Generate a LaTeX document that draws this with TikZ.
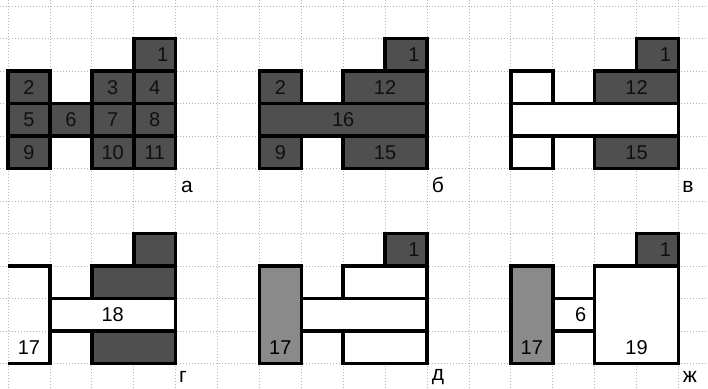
\documentclass[tikz,border=0pt]{standalone}
\usepackage{fontspec}
\setmainfont{Liberation Sans}
\definecolor{darkcell}{HTML}{4F4F4F}
\definecolor{midcell}{HTML}{8A8A8A}
\definecolor{gridc}{HTML}{B4B4B4}
\tikzset{
 gridline/.style={gridc, line width=0.7pt, dash pattern=on 1.2pt off 1.8pt},
 reg/.style={anchor=north west, inner sep=0pt, outer sep=0pt, line width=3.6pt, draw=black},
 dk/.style={reg, fill=darkcell},
 md/.style={reg, fill=midcell},
 wt/.style={reg, fill=white},
 nb/.style={anchor=north west, inner sep=0pt, outer sep=0pt},
 num/.style={font=\fontsize{20}{22}\selectfont, inner sep=0pt},
 dnum/.style={num, text=black!80!darkcell},
 panel/.style={font=\fontsize{21}{24}\selectfont, inner sep=0pt}
}
\newcommand\rg[8]{\node[#8, minimum width={#6*41.9pt}, minimum height={#7*32.5pt}] (#1) at ({#2+#4*41.9},{#3+#5*32.5}) {};}
\begin{document}
\begin{tikzpicture}[x=1pt,y=-1pt]
\useasboundingbox[fill=white] (0,0) rectangle (708,388);
% grid
\foreach \i in {0,...,16} \draw[gridline] ({8+\i*41.9},0) -- ({8+\i*41.9},388);
\foreach \j in {0,...,11} \draw[gridline] (0,{6+\j*32.5}) -- (708,{6+\j*32.5});
% panel a
\rg{a1}{8}{38.5}{3}{0}{1}{1}{dk}
\rg{a2}{8}{38.5}{0}{1}{1}{1}{dk}
\rg{a3}{8}{38.5}{2}{1}{1}{1}{dk}
\rg{a4}{8}{38.5}{3}{1}{1}{1}{dk}
\rg{a5}{8}{38.5}{0}{2}{1}{1}{dk}
\rg{a6}{8}{38.5}{1}{2}{1}{1}{dk}
\rg{a7}{8}{38.5}{2}{2}{1}{1}{dk}
\rg{a8}{8}{38.5}{3}{2}{1}{1}{dk}
\rg{a9}{8}{38.5}{0}{3}{1}{1}{dk}
\rg{a10}{8}{38.5}{2}{3}{1}{1}{dk}
\rg{a11}{8}{38.5}{3}{3}{1}{1}{dk}
\node[dnum] (la1) at ([xshift=8pt]a1.center) {1};
\node[dnum] (la2) at (a2.center) {2};
\node[dnum] (la3) at (a3.center) {3};
\node[dnum] (la4) at (a4.center) {4};
\node[dnum] (la5) at (a5.center) {5};
\node[dnum] (la6) at (a6.center) {6};
\node[dnum] (la7) at (a7.center) {7};
\node[dnum] (la8) at (a8.center) {8};
\node[dnum] (la9) at (a9.center) {9};
\node[dnum] (la10) at (a10.center) {10};
\node[dnum] (la11) at (a11.center) {11};
% panel b
\rg{b1}{259.4}{38.5}{3}{0}{1}{1}{dk}
\rg{b2}{259.4}{38.5}{0}{1}{1}{1}{dk}
\rg{b12}{259.4}{38.5}{2}{1}{2}{1}{dk}
\rg{b16}{259.4}{38.5}{0}{2}{4}{1}{dk}
\rg{b9}{259.4}{38.5}{0}{3}{1}{1}{dk}
\rg{b15}{259.4}{38.5}{2}{3}{2}{1}{dk}
\node[dnum] (lb1) at ([xshift=8pt]b1.center) {1};
\node[dnum] (lb2) at (b2.center) {2};
\node[dnum] (lb12) at (b12.center) {12};
\node[dnum] (lb16) at (b16.center) {16};
\node[dnum] (lb9) at (b9.center) {9};
\node[dnum] (lb15) at (b15.center) {15};
% panel v
\rg{c1}{510.8}{38.5}{3}{0}{1}{1}{dk}
\rg{cw1}{510.8}{38.5}{0}{1}{1}{1}{wt}
\rg{c12}{510.8}{38.5}{2}{1}{2}{1}{dk}
\rg{cw2}{510.8}{38.5}{0}{2}{4}{1}{wt}
\rg{cw3}{510.8}{38.5}{0}{3}{1}{1}{wt}
\rg{c15}{510.8}{38.5}{2}{3}{2}{1}{dk}
\node[dnum] (lc1) at ([xshift=8pt]c1.center) {1};
\node[dnum] (lc12) at (c12.center) {12};
\node[dnum] (lc15) at (c15.center) {15};
% panel g
\rg{d1}{8}{233.5}{3}{0}{1}{1}{dk}
\rg{d12}{8}{233.5}{2}{1}{2}{1}{dk}
\rg{d18}{8}{233.5}{1}{2}{3}{1}{wt}
\rg{d15}{8}{233.5}{2}{3}{2}{1}{dk}
\rg{d17}{8}{233.5}{0}{1}{1}{3}{nb}
\draw[line width=3.6pt] (d17.north west) -- (d17.north east) -- (d17.south east) -- (d17.south west);
\node[num] (ld18) at (d18.center) {18};
\node[num] (ld17) at ([yshift=16.25pt]d17.south) {17};
% panel d
\rg{e1}{259.4}{233.5}{3}{0}{1}{1}{dk}
\rg{e17}{259.4}{233.5}{0}{1}{1}{3}{md}
\rg{ew1}{259.4}{233.5}{2}{1}{2}{1}{wt}
\rg{ew2}{259.4}{233.5}{1}{2}{3}{1}{wt}
\rg{ew3}{259.4}{233.5}{2}{3}{2}{1}{wt}
\node[dnum] (le1) at ([xshift=8pt]e1.center) {1};
\node[num] (le17) at ([yshift=16.25pt]e17.south) {17};
% panel zh
\rg{f1}{510.8}{233.5}{3}{0}{1}{1}{dk}
\rg{f17}{510.8}{233.5}{0}{1}{1}{3}{md}
\rg{f6}{510.8}{233.5}{1}{2}{1}{1}{wt}
\rg{f19}{510.8}{233.5}{2}{1}{2}{3}{wt}
\node[dnum] (lf1) at ([xshift=8pt]f1.center) {1};
\node[num] (lf17) at ([yshift=16.25pt]f17.south) {17};
\node[num] (lf6) at ([xshift=7pt]f6.center) {6};
\node[num] (lf19) at ([yshift=16.25pt]f19.south) {19};
% panel letters
\node[panel] (pa) at (187,187) {а};
\node[panel] (pb) at (438,185) {б};
\node[panel] (pv) at (688,187) {в};
\node[panel] (pg) at (183,377) {г};
\node[panel] (pd) at (438,377) {д};
\node[panel] (pzh) at (690,377) {ж};
\end{tikzpicture}
\end{document}
